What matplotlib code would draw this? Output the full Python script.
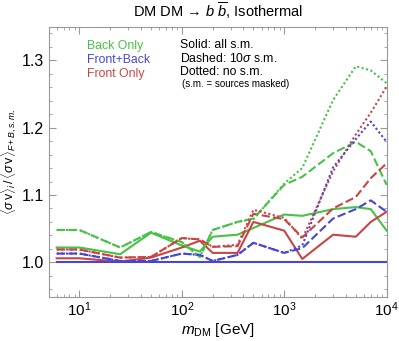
import matplotlib.pyplot as plt
import numpy as np
from matplotlib.ticker import MultipleLocator, LogLocator, NullFormatter

plt.rcParams['font.family'] = ['Liberation Sans', 'DejaVu Sans']
plt.rcParams['mathtext.fontset'] = 'custom'
plt.rcParams['mathtext.rm'] = 'Liberation Sans'
plt.rcParams['mathtext.it'] = 'Liberation Sans:italic'
plt.rcParams['mathtext.bf'] = 'Liberation Sans:bold'

masses = [6, 10, 25, 50, 100, 150, 200, 350, 500, 1000, 1500, 3000, 5000, 7000, 10000]

back_solid = [1.022, 1.022, 1.012, 1.044, 1.025, 1.016, 1.038, 1.041, 1.051, 1.071, 1.069, 1.079, 1.082, 1.079, 1.047]
back_dashed = [1.048, 1.048, 1.022, 1.045, 1.030, 1.008, 1.048, 1.060, 1.065, 1.115, 1.127, 1.162, 1.179, 1.165, 1.115]
back_dotted = [1.048, 1.048, 1.022, 1.045, 1.030, 1.008, 1.048, 1.060, 1.064, 1.117, 1.140, 1.241, 1.291, 1.285, 1.266]

fb_solid = [1.0] * len(masses)
fb_dashed = [1.013, 1.013, 1.002, 1.002, 1.013, 1.011, 1.002, 1.011, 1.029, 1.014, 1.021, 1.065, 1.079, 1.092, 1.075]
fb_dotted = [1.013, 1.013, 1.002, 1.002, 1.013, 1.011, 1.002, 1.011, 1.029, 1.014, 1.025, 1.141, 1.183, 1.209, 1.179]

front_solid = [1.006, 1.006, 1.001, 1.007, 1.022, 1.032, 1.014, 1.014, 1.060, 1.047, 1.005, 1.041, 1.038, 1.060, 1.075]
front_dashed = [1.019, 1.019, 1.007, 1.008, 1.036, 1.034, 1.023, 1.024, 1.072, 1.064, 1.037, 1.080, 1.097, 1.125, 1.147]
front_dotted = [1.019, 1.019, 1.007, 1.008, 1.036, 1.034, 1.023, 1.026, 1.078, 1.066, 1.035, 1.135, 1.190, 1.222, 1.261]

green = '#47c247'
blue = '#4646d2'
red = '#c94545'

fig = plt.figure(figsize=(3.99, 3.41), dpi=100)
ax = fig.add_axes([0.124, 0.130, 0.845, 0.792])

dash = (0, (4, 1.6))
dot = (0, (1, 1.2))
lw = 1.5

for ys, c in [(back_solid, green), (front_solid, red), (fb_solid, blue)]:
    ax.plot(masses, ys, color=c, lw=lw, ls='-')
for ys, c in [(back_dashed, green), (front_dashed, red), (fb_dashed, blue)]:
    ax.plot(masses, ys, color=c, lw=lw, ls=dash)
for ys, c in [(back_dotted, green), (front_dotted, red), (fb_dotted, blue)]:
    ax.plot(masses, ys, color=c, lw=lw, ls=dot)

ax.set_xscale('log')
ax.set_xlim(5.1, 10000)
ax.set_ylim(0.949, 1.35)

ax.yaxis.set_minor_locator(MultipleLocator(0.02))
ax.set_yticks([1.0, 1.1, 1.2, 1.3])
ax.set_yticklabels(['1.0', '1.1', '1.2', '1.3'])
ax.xaxis.set_major_locator(LogLocator(base=10, numticks=10))
ax.xaxis.set_minor_locator(LogLocator(base=10, subs=np.arange(2, 10), numticks=20))
ax.xaxis.set_minor_formatter(NullFormatter())

ax.tick_params(which='both', direction='in', top=True, right=True, color='#999999')
ax.tick_params(which='major', length=5, width=0.8)
ax.tick_params(which='minor', length=2.5, width=0.6)
ax.tick_params(axis='y', which='major', labelsize=11.5, pad=4)
ax.tick_params(axis='x', which='major', labelsize=11, pad=3)
for s in ax.spines.values():
    s.set_color('#999999')
    s.set_linewidth(0.8)

ax.set_title('DM DM → $b\\ \\overline{b}$, Isothermal', fontsize=10.5, pad=7)
ax.set_xlabel(r'$m_{\rm DM}$ [GeV]', fontsize=11, labelpad=1)
ax.set_ylabel(r'$\langle\sigma\,{\rm v}\rangle_i\,/\,\langle\sigma\,{\rm v}\rangle_{F+B,s.m.}$', fontsize=9)
ax.yaxis.set_label_coords(-0.09, 0.5)

ax.text(0.11, 0.93, 'Back Only', color=green, fontsize=8.8, transform=ax.transAxes, va='center')
ax.text(0.11, 0.876, 'Front+Back', color=blue, fontsize=8.8, transform=ax.transAxes, va='center')
ax.text(0.11, 0.826, 'Front Only', color=red, fontsize=8.8, transform=ax.transAxes, va='center')

ax.text(0.386, 0.933, 'Solid: all s.m.', fontsize=8.8, transform=ax.transAxes, va='center')
ax.text(0.386, 0.881, r'Dashed: 10$\sigma$ s.m.', fontsize=8.8, transform=ax.transAxes, va='center')
ax.text(0.386, 0.833, 'Dotted: no s.m.', fontsize=8.8, transform=ax.transAxes, va='center')
ax.text(0.392, 0.788, '(s.m. = sources masked)', fontsize=7, transform=ax.transAxes, va='center')

fig.savefig('out.png', dpi=100)
